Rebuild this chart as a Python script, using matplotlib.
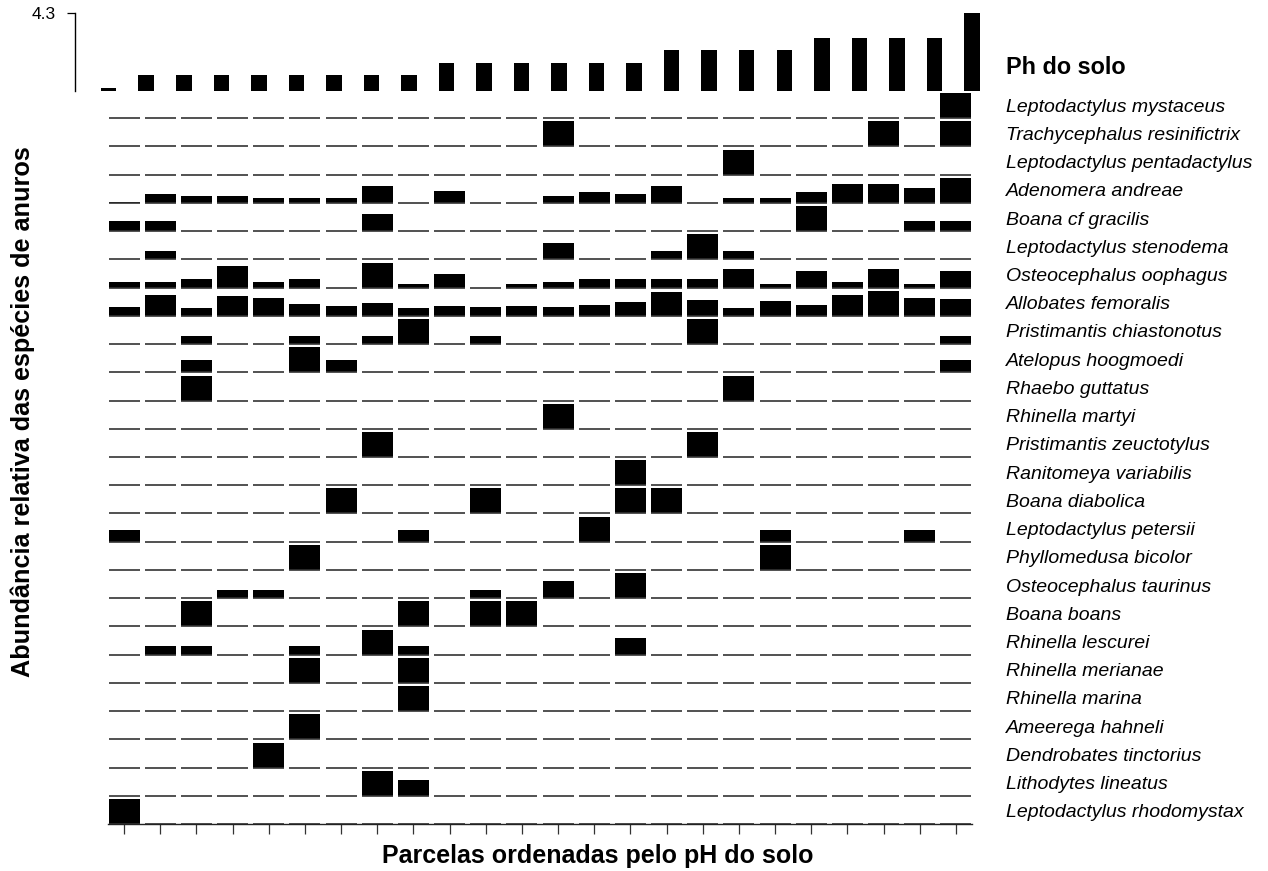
import matplotlib
matplotlib.use("Agg")
import matplotlib.pyplot as plt
from matplotlib.collections import LineCollection

plt.rcParams['font.family'] = ['Liberation Sans', 'DejaVu Sans']

# ---------------- data ----------------
species = [
    "Leptodactylus mystaceus", "Trachycephalus resinifictrix", "Leptodactylus pentadactylus",
    "Adenomera andreae", "Boana cf gracilis", "Leptodactylus stenodema",
    "Osteocephalus oophagus", "Allobates femoralis", "Pristimantis chiastonotus",
    "Atelopus hoogmoedi", "Rhaebo guttatus", "Rhinella martyi",
    "Pristimantis zeuctotylus", "Ranitomeya variabilis", "Boana diabolica",
    "Leptodactylus petersii", "Phyllomedusa bicolor", "Osteocephalus taurinus",
    "Boana boans", "Rhinella lescurei", "Rhinella merianae", "Rhinella marina",
    "Ameerega hahneli", "Dendrobates tinctorius", "Lithodytes lineatus",
    "Leptodactylus rhodomystax",
]

ph_values = [3.7, 3.8, 3.8, 3.8, 3.8, 3.8, 3.8, 3.8, 3.8, 3.9, 3.9, 3.9,
             3.9, 3.9, 3.9, 4.0, 4.0, 4.0, 4.0, 4.1, 4.1, 4.1, 4.1, 4.3]
ph_tick = [4.3]

# relative abundance (0-1, scaled by each species' maximum), one row per species, 24 plots
rel_abund = [
    [0, 0, 0, 0, 0, 0, 0, 0, 0, 0, 0, 0, 0, 0, 0, 0, 0, 0, 0, 0, 0, 0, 0, 1.0],
    [0, 0, 0, 0, 0, 0, 0, 0, 0, 0, 0, 0, 1.0, 0, 0, 0, 0, 0, 0, 0, 0, 1.0, 0, 1.0],
    [0, 0, 0, 0, 0, 0, 0, 0, 0, 0, 0, 0, 0, 0, 0, 0, 0, 1.0, 0, 0, 0, 0, 0, 0],
    [0.05, 0.36, 0.27, 0.27, 0.2, 0.2, 0.2, 0.67, 0, 0.49, 0, 0, 0.27, 0.43, 0.36, 0.68, 0, 0.19, 0.19, 0.43, 0.74, 0.74, 0.6, 1.0],
    [0.39, 0.39, 0, 0, 0, 0, 0, 0.69, 0, 0, 0, 0, 0, 0, 0, 0, 0, 0, 0, 1.0, 0, 0, 0.39, 0.39],
    [0, 0.33, 0, 0, 0, 0, 0, 0, 0, 0, 0, 0, 0.64, 0, 0, 0.33, 1.0, 0.33, 0, 0, 0, 0, 0, 0],
    [0.24, 0.24, 0.33, 0.87, 0.24, 0.33, 0, 1.0, 0.13, 0.56, 0, 0.13, 0.24, 0.33, 0.33, 0.33, 0.33, 0.76, 0.13, 0.67, 0.24, 0.76, 0.13, 0.67],
    [0.37, 0.84, 0.31, 0.8, 0.73, 0.47, 0.4, 0.51, 0.31, 0.4, 0.36, 0.4, 0.36, 0.45, 0.56, 0.97, 0.64, 0.31, 0.6, 0.44, 0.83, 1.0, 0.73, 0.69],
    [0, 0, 0.33, 0, 0, 0.33, 0, 0.33, 1.0, 0, 0.33, 0, 0, 0, 0, 0, 1.0, 0, 0, 0, 0, 0, 0, 0.33],
    [0, 0, 0.48, 0, 0, 1.0, 0.48, 0, 0, 0, 0, 0, 0, 0, 0, 0, 0, 0, 0, 0, 0, 0, 0, 0.48],
    [0, 0, 1.0, 0, 0, 0, 0, 0, 0, 0, 0, 0, 0, 0, 0, 0, 0, 1.0, 0, 0, 0, 0, 0, 0],
    [0, 0, 0, 0, 0, 0, 0, 0, 0, 0, 0, 0, 1.0, 0, 0, 0, 0, 0, 0, 0, 0, 0, 0, 0],
    [0, 0, 0, 0, 0, 0, 0, 1.0, 0, 0, 0, 0, 0, 0, 0, 0, 1.0, 0, 0, 0, 0, 0, 0, 0],
    [0, 0, 0, 0, 0, 0, 0, 0, 0, 0, 0, 0, 0, 0, 1.0, 0, 0, 0, 0, 0, 0, 0, 0, 0],
    [0, 0, 0, 0, 0, 0, 1.0, 0, 0, 0, 1.0, 0, 0, 0, 1.0, 1.0, 0, 0, 0, 0, 0, 0, 0, 0],
    [0.47, 0, 0, 0, 0, 0, 0, 0, 0.47, 0, 0, 0, 0, 1.0, 0, 0, 0, 0, 0.47, 0, 0, 0, 0.47, 0],
    [0, 0, 0, 0, 0, 1.0, 0, 0, 0, 0, 0, 0, 0, 0, 0, 0, 0, 0, 1.0, 0, 0, 0, 0, 0],
    [0, 0, 0, 0.33, 0.33, 0, 0, 0, 0, 0, 0.33, 0, 0.67, 0, 1.0, 0, 0, 0, 0, 0, 0, 0, 0, 0],
    [0, 0, 1.0, 0, 0, 0, 0, 0, 1.0, 0, 1.0, 1.0, 0, 0, 0, 0, 0, 0, 0, 0, 0, 0, 0, 0],
    [0, 0.33, 0.33, 0, 0, 0.33, 0, 1.0, 0.33, 0, 0, 0, 0, 0, 0.67, 0, 0, 0, 0, 0, 0, 0, 0, 0],
    [0, 0, 0, 0, 0, 1.0, 0, 0, 1.0, 0, 0, 0, 0, 0, 0, 0, 0, 0, 0, 0, 0, 0, 0, 0],
    [0, 0, 0, 0, 0, 0, 0, 0, 1.0, 0, 0, 0, 0, 0, 0, 0, 0, 0, 0, 0, 0, 0, 0, 0],
    [0, 0, 0, 0, 0, 1.0, 0, 0, 0, 0, 0, 0, 0, 0, 0, 0, 0, 0, 0, 0, 0, 0, 0, 0],
    [0, 0, 0, 0, 1.0, 0, 0, 0, 0, 0, 0, 0, 0, 0, 0, 0, 0, 0, 0, 0, 0, 0, 0, 0],
    [0, 0, 0, 0, 0, 0, 0, 1.0, 0.65, 0, 0, 0, 0, 0, 0, 0, 0, 0, 0, 0, 0, 0, 0, 0],
    [1.0, 0, 0, 0, 0, 0, 0, 0, 0, 0, 0, 0, 0, 0, 0, 0, 0, 0, 0, 0, 0, 0, 0, 0],
]

title_ph = "Ph do solo"
xlabel = "Parcelas ordenadas pelo pH do solo"
ylabel = "Abundância relativa das espécies de anuros"

# ---------------- layout ----------------
W, H = 1268, 871
fig = plt.figure(figsize=(W / 100, H / 100), dpi=100)


def px_axes(left, top, right, bottom):
    return fig.add_axes([left / W, 1 - bottom / H, (right - left) / W, (bottom - top) / H])


n_plots = len(ph_values)
n_sp = len(species)
xs = list(range(n_plots))

# main panel
ax = px_axes(106, 90, 974, 824)
ax.set_xlim(-0.5, n_plots - 0.5)
ax.set_ylim(0, n_sp)
row_h = 25 / 28.23
bar_w = 0.857

segs = []
for r, (name, vals) in enumerate(zip(species, rel_abund)):
    base = n_sp - 1 - r
    for i in xs:
        segs.append([(i - bar_w / 2, base), (i + bar_w / 2, base)])
    ax.bar(xs, [v * row_h for v in vals], width=bar_w, bottom=base,
           color='black', edgecolor='none', linewidth=0)
    ax.text(24.38, base + 0.234, name, fontstyle='italic', fontsize=14,
            ha='left', va='baseline', clip_on=False)
ax.add_collection(LineCollection(segs, colors='#333333', linewidths=1.2, zorder=1))

for s in ['top', 'right', 'left']:
    ax.spines[s].set_visible(False)
ax.spines['bottom'].set_bounds(-0.45, n_plots - 0.55)
ax.spines['bottom'].set_linewidth(1.0)
ax.spines['bottom'].set_color('#222222')
ax.set_yticks([])
ax.set_xticks(xs)
ax.set_xticklabels([])
ax.tick_params(axis='x', direction='out', length=7.5, width=0.9, color='#333333')

# pH panel
ph_base = 3.673
axp = px_axes(75, 13.3, 990.7, 91)
axp.set_xlim(-0.898, n_plots - 0.5)
axp.set_ylim(ph_base, max(ph_tick))
axp.bar(xs, [p - ph_base for p in ph_values], bottom=ph_base, width=0.413,
        color='black', edgecolor='none')
for s in ['top', 'right', 'bottom']:
    axp.spines[s].set_visible(False)
axp.spines['left'].set_linewidth(1.0)
axp.set_xticks([])
axp.set_yticks(ph_tick)
axp.set_yticklabels([f"{t:.1f}" for t in ph_tick])
axp.tick_params(axis='y', direction='out', length=6, width=0.9, labelsize=12.5, pad=8)

fig.text(1006 / W, 1 - 74.3 / H, title_ph, fontweight='bold', fontsize=16.8,
         ha='left', va='baseline')
fig.text(598 / W, 1 - 863 / H, xlabel, fontweight='bold', fontsize=18,
         ha='center', va='baseline')
fig.text(23 / W, 1 - 412 / H, ylabel, fontweight='bold', fontsize=18.2,
         rotation=90, ha='center', va='center')

fig.savefig("out.png", dpi=100, facecolor='white')
